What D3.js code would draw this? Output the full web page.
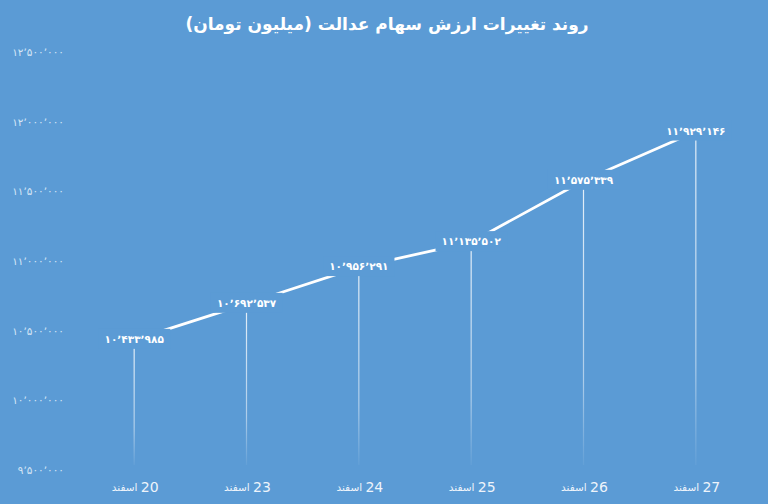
<!DOCTYPE html>
<html><head><meta charset="utf-8">
<script src="https://cdn.jsdelivr.net/npm/d3@7"></script>
<style>
html,body{margin:0;padding:0;background:#5b9bd5;}
svg{display:block;font-family:"DejaVu Sans",sans-serif;}
</style></head>
<body><svg id="c" width="768" height="504"></svg>
<script>
const title = "روند تغییرات ارزش سهام عدالت (میلیون تومان)";
const days = ["20", "23", "24", "25", "26", "27"];
const monthName = "اسفند";
const values = [10433985, 10692537, 10956291, 11135502, 11575339, 11929146];
const yTicks = [9500000, 10000000, 10500000, 11000000, 11500000, 12000000, 12500000];

const fa = n => d3.format(",")(n).replace(/,/g, "\u066C").replace(/\d/g, d => "۰۱۲۳۴۵۶۷۸۹"[+d]);

const svg = d3.select("#c");
const bg = "#5b9bd5";
svg.append("rect").attr("width", 768).attr("height", 504).attr("fill", bg);

const x = d3.scaleBand().domain(days).range([78, 752]).padding(0);
const y = d3.scaleLinear().domain([9500000, 12500000]).range([470, 52]);
const cx = d => x(d) + x.bandwidth() / 2;

const defs = svg.append("defs");
const g = defs.append("linearGradient").attr("id", "dg").attr("x1", 0).attr("x2", 0).attr("y1", 0).attr("y2", 1);
g.append("stop").attr("offset", "0%").attr("stop-color", "#fff").attr("stop-opacity", 0.85);
g.append("stop").attr("offset", "70%").attr("stop-color", "#fff").attr("stop-opacity", 0.5);
g.append("stop").attr("offset", "100%").attr("stop-color", "#fff").attr("stop-opacity", 0.05);

// title
svg.append("text").attr("x", 387).attr("y", 25).attr("text-anchor", "middle")
  .attr("dominant-baseline", "middle").attr("direction", "rtl")
  .attr("fill", "#fff").attr("font-weight", "bold").attr("font-size", 17).text(title);

// y axis
const yAxis = d3.axisLeft(y).tickValues(yTicks).tickFormat(fa).tickSize(0).tickPadding(0);
const ya = svg.append("g").attr("transform", "translate(64,0)").call(yAxis);
ya.select(".domain").remove();
ya.selectAll("text").attr("fill", "#d6e6f5").attr("font-size", 10.5).attr("font-family", "DejaVu Sans");

// drop lines
svg.append("g").selectAll("rect").data(days).join("rect")
  .attr("x", d => cx(d) - 0.6).attr("width", 1.2)
  .attr("y", (d, i) => y(values[i])).attr("height", (d, i) => 465 - y(values[i]))
  .attr("fill", "url(#dg)");

// line
const line = d3.line().x((d, i) => cx(days[i])).y(d => y(d));
svg.append("path").datum(values).attr("d", line).attr("fill", "none")
  .attr("stroke", "#fff").attr("stroke-width", 2.8);

// data labels
const lg = svg.append("g").selectAll("g").data(values).join("g")
  .attr("transform", (d, i) => `translate(${cx(days[i])},${y(d)})`);
lg.append("text").attr("text-anchor", "middle").attr("dominant-baseline", "middle")
  .attr("fill", "#fff").attr("font-size", 10.5).attr("font-weight", "bold")
  .attr("letter-spacing", 0.6).text(d => fa(d));
lg.each(function () {
  const t = d3.select(this).select("text");
  const b = t.node().getBBox();
  d3.select(this).insert("rect", "text").attr("x", b.x - 6).attr("y", b.y - 4)
    .attr("width", b.width + 12).attr("height", b.height + 8).attr("fill", bg);
});

// x axis labels
const xl = svg.append("g").selectAll("text").data(days).join("text")
  .attr("x", d => cx(d) + 1).attr("y", 488).attr("text-anchor", "middle")
  .attr("dominant-baseline", "middle").attr("direction", "rtl").attr("fill", "#eef4fb");
xl.append("tspan").attr("font-size", 14).text(d => d);
xl.append("tspan").attr("font-size", 10.5).text(" " + monthName);
</script></body></html>
